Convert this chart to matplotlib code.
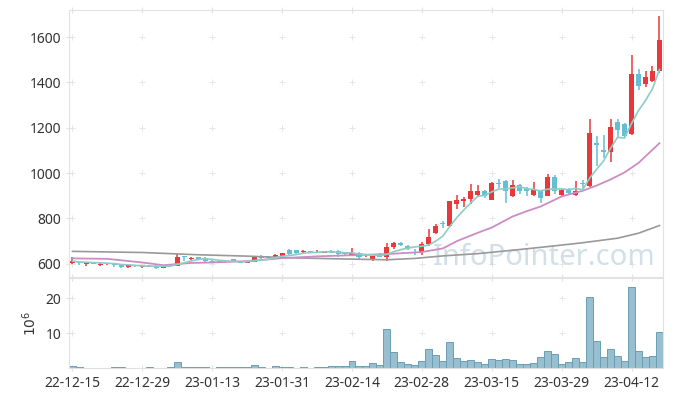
import numpy as np
import pandas as pd
import matplotlib
matplotlib.use("Agg")
import matplotlib.pyplot as plt

plt.rcParams['font.family'] = ['Noto Sans', 'DejaVu Sans']

# daily OHLC (KRW), trading days from 22-12-15
opens = [602, 608, 600, 606, 597, 598, 601, 597, 588, 594,
         587, 588, 592, 582, 596, 592, 634, 620, 630, 626,
         612, 612, 612, 620, 611, 604, 610, 635, 630, 628,
         635, 659, 659, 652, 656, 648, 650, 657, 657, 646,
         638, 650, 634, 615, 643, 632, 674, 694, 679, 663,
         654, 688, 735, 782, 765, 863, 879, 885, 904, 922,
         882, 958, 966, 897, 948, 934, 904, 923, 900, 985,
         904, 929, 903, 955, 945, 1132, 1103, 1095, 1225, 1217,
         1173, 1438, 1392, 1408, 1448]
highs = [630, 610, 608, 608, 603, 604, 603, 599, 596, 596,
         592, 595, 594, 594, 600, 645, 636, 628, 632, 628,
         615, 614, 614, 622, 613, 614, 634, 640, 633, 642,
         650, 666, 662, 660, 658, 662, 658, 659, 659, 648,
         670, 652, 638, 636, 646, 694, 695, 698, 682, 665,
         695, 753, 775, 790, 878, 905, 893, 952, 948, 925,
         962, 972, 970, 970, 952, 937, 962, 925, 995, 990,
         930, 935, 965, 970, 1238, 1165, 1166, 1238, 1238, 1222,
         1522, 1460, 1448, 1473, 1694]
lows = [598, 595, 592, 598, 590, 596, 588, 583, 582, 586,
        580, 584, 577, 580, 590, 590, 614, 618, 620, 610,
        606, 607, 606, 608, 602, 602, 608, 622, 624, 626,
        632, 640, 642, 650, 650, 646, 646, 647, 632, 636,
        636, 615, 632, 612, 630, 612, 665, 678, 660, 640,
        640, 680, 730, 760, 762, 840, 852, 865, 900, 892,
        880, 935, 868, 895, 910, 898, 900, 868, 898, 908,
        900, 902, 897, 930, 940, 1032, 1066, 1048, 1154, 1160,
        1170, 1367, 1379, 1400, 1440]
closes = [612, 604, 605, 601, 601, 603, 595, 585, 594, 590,
          590, 592, 582, 592, 593, 628, 628, 624, 622, 614,
          610, 609, 610, 613, 605, 612, 630, 625, 627, 640,
          647, 644, 646, 657, 653, 654, 655, 650, 643, 643,
          650, 632, 636, 635, 632, 674, 691, 682, 667, 660,
          688, 720, 768, 775, 875, 882, 888, 922, 922, 897,
          958, 950, 923, 948, 919, 919, 931, 892, 985, 919,
          926, 912, 922, 952, 1176, 1122, 1095, 1203, 1191, 1164,
          1438, 1385, 1423, 1451, 1588]

# volume, millions of shares
volume = [0.6, 0.3, 0.1, 0.1, 0.1, 0.1, 0.4, 0.4, 0.1, 0.1,
          0.1, 0.4, 0.1, 0.1, 0.4, 1.7, 0.4, 0.3, 0.3, 0.3,
          0.1, 0.3, 0.3, 0.3, 0.3, 0.4, 0.9, 0.4, 0.1, 0.6,
          0.4, 0.3, 0.1, 0.3, 0.1, 0.3, 0.3, 0.5, 0.6, 0.6,
          2.0, 0.6, 0.5, 1.4, 0.9, 11.1, 4.7, 1.8, 1.2, 0.9,
          2.1, 5.4, 3.8, 2.1, 7.5, 2.9, 2.1, 2.4, 1.8, 1.1,
          2.7, 2.4, 2.7, 2.4, 1.2, 1.2, 1.5, 3.2, 5.0, 4.1,
          1.2, 1.8, 3.0, 1.8, 20.4, 7.8, 3.2, 5.4, 3.5, 2.1,
          23.2, 5.0, 3.2, 3.5, 10.4]

# longer moving averages (need history before the window)
ma20_idx = [0, 5, 10, 13, 17, 20, 25, 30, 35, 40, 45, 50, 53, 55, 58,
            60, 63, 65, 67, 70, 73, 75, 77, 79, 81, 84]
ma20_val = [624, 622, 606, 594, 604, 606, 612, 625, 633, 638, 643, 652, 668, 700, 737,
            760, 809, 832, 853, 897, 922, 945, 972, 1003, 1045, 1132]
ma60_idx = [0, 10, 18, 25, 31, 38, 45, 49, 53, 58, 63, 68, 73, 78, 81, 84]
ma60_val = [655, 650, 640, 634, 627, 622, 618, 624, 635, 645, 660, 676, 693, 713, 735, 769]

tick_pos = [0, 10, 20, 30, 40, 50, 60, 70, 80]
tick_labels = ['22-12-15', '22-12-29', '23-01-13', '23-01-31', '23-02-14',
               '23-02-28', '23-03-15', '23-03-29', '23-04-12']
price_ticks = [600, 800, 1000, 1200, 1400, 1600]
vol_ticks = [10, 20]

UP = '#e8383b'
DOWN = '#65bed6'
SPINE = '#e2e2e2'

n = len(closes)
x = np.arange(n)
ma5 = pd.Series(closes).rolling(5, min_periods=1).mean()

fig = plt.figure(figsize=(6.73, 3.96), dpi=100)
ax = fig.add_axes([0.1025, 0.3005, 0.8826, 0.6742])
axv = fig.add_axes([0.1025, 0.0707, 0.8826, 0.2268], sharex=ax)

for a, yt in ((ax, price_ticks), (axv, vol_ticks)):
    for s in a.spines.values():
        s.set_color(SPINE)
    for xt in tick_pos:
        a.plot([xt] * len(yt), yt, ls='none', marker='+', ms=5, mew=0.7,
               color='#e6e6e6', zorder=0)
    a.tick_params(colors='#333333', labelsize=10, length=4, direction='inout',
                  top=True, right=False)
    a.tick_params(axis='both', which='both', color=SPINE)

# candles
for i in range(n):
    o, h, l, c = opens[i], highs[i], lows[i], closes[i]
    col = UP if c >= o else DOWN
    ax.vlines(i, l, h, color=col, lw=1.1, zorder=2)
    ax.bar(i, max(abs(c - o), 2), bottom=min(o, c), width=0.72, color=col, zorder=3)

ax.plot(ma60_idx, ma60_val, color='#999999', lw=1.2, zorder=4)
ax.plot(ma20_idx, ma20_val, color='#cc8cc4', lw=1.3, zorder=4)
ax.plot(x, ma5, color='#8ccdc4', lw=1.2, zorder=4)

ax.text(0.987, 0.045, 'InfoPointer.com', transform=ax.transAxes, ha='right',
        va='baseline', fontsize=21, color='#c8dae4', alpha=0.85, zorder=1)

ax.set_xlim(-0.5, n - 0.5)
ax.set_ylim(542, 1719)
ax.set_yticks(price_ticks)
ax.tick_params(labelbottom=False)

axv.bar(x, volume, width=1.0, color='#97bfd0', edgecolor='#6b9db5', lw=0.7, zorder=2)
axv.set_ylim(0, 25.7)
axv.set_yticks(vol_ticks)
axv.set_xticks(tick_pos)
axv.set_xticklabels(tick_labels)
axv.set_ylabel('$10^6$', fontsize=10, color='#333333', labelpad=4)

fig.savefig('out.png', dpi=100)
